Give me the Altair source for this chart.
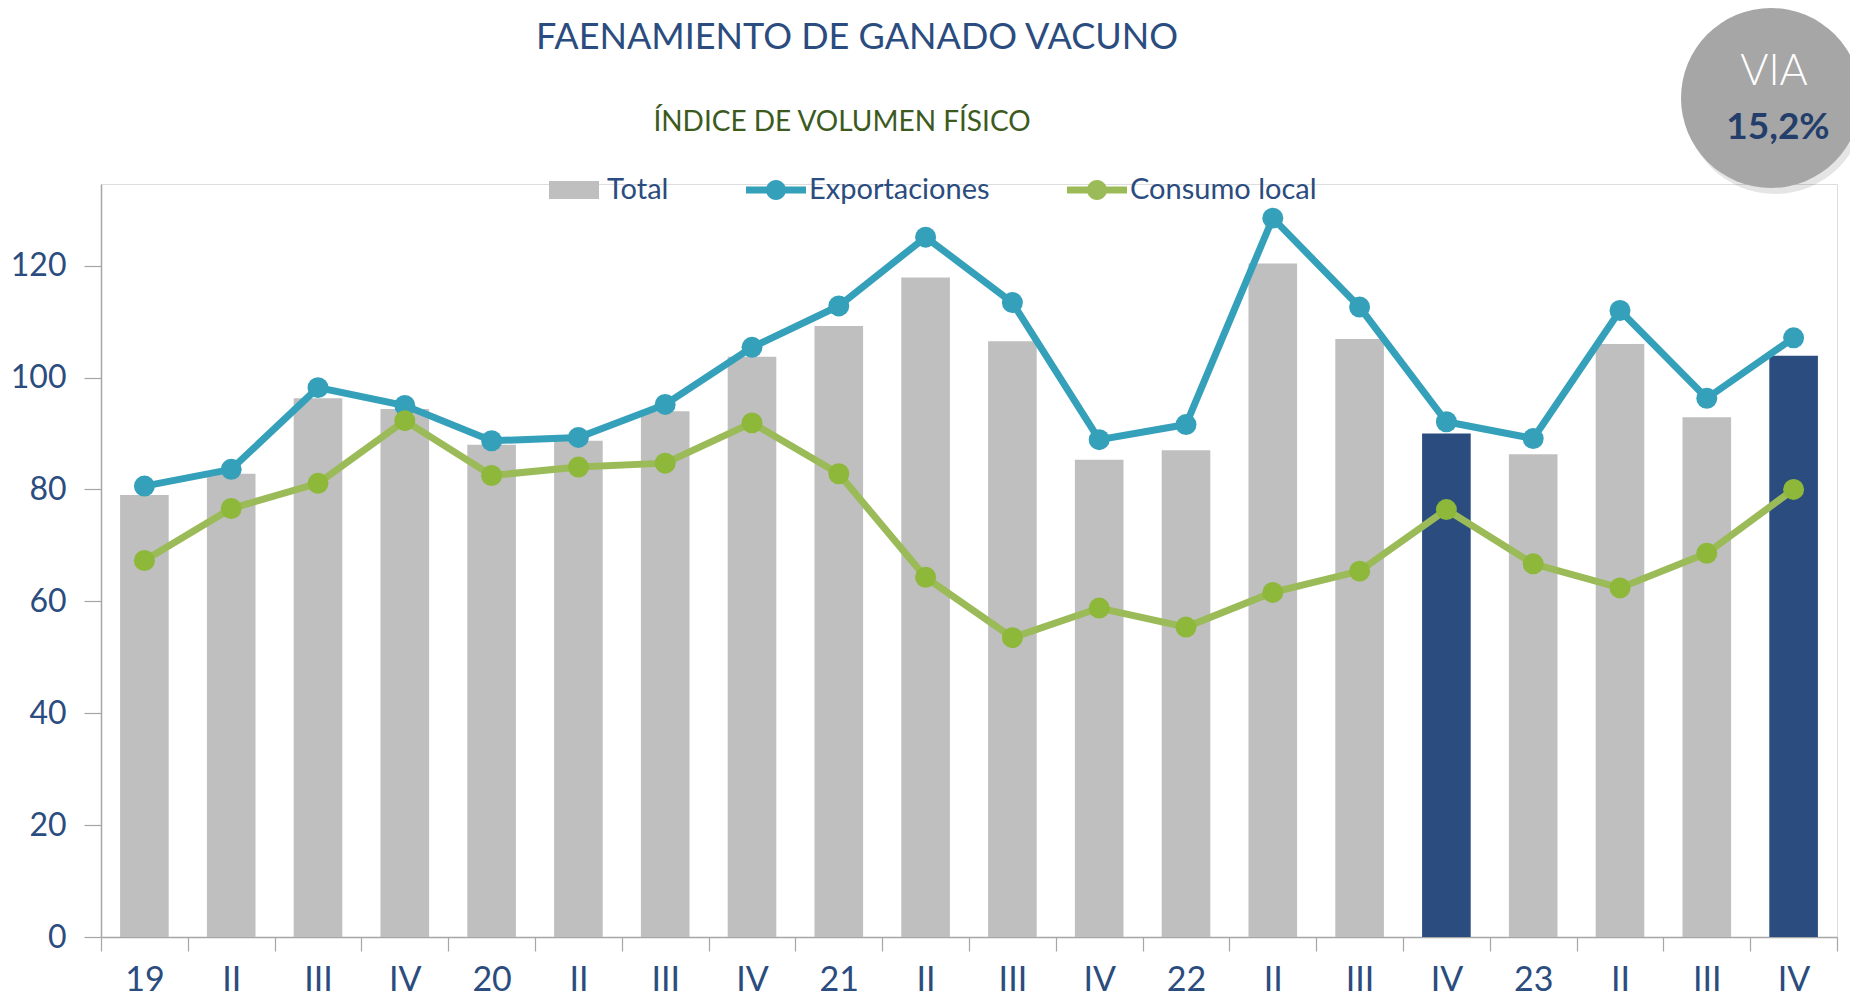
import json
import altair as alt
import pandas as pd

# ---- data ----
labels = ["19", "II", "III", "IV", "20", "II", "III", "IV", "21", "II",
          "III", "IV", "22", "II", "III", "IV", "23", "II", "III", "IV"]
total = [79.0, 82.8, 96.3, 94.4, 88.0, 88.7, 94.0, 103.7, 109.2, 117.9,
         106.5, 85.3, 87.0, 120.4, 106.9, 90.0, 86.3, 106.0, 92.9, 103.9]
exportaciones = [80.6, 83.6, 98.2, 95.0, 88.7, 89.3, 95.2, 105.4, 112.8, 125.1,
                 113.4, 88.9, 91.6, 128.5, 112.6, 92.1, 89.1, 112.0, 96.3, 107.1]
consumo = [67.3, 76.6, 81.1, 92.3, 82.5, 84.0, 84.7, 91.9, 82.8, 64.3,
           53.5, 58.8, 55.4, 61.6, 65.4, 76.4, 66.7, 62.4, 68.6, 80.0]
highlight = [i in (15, 19) for i in range(len(labels))]
series = ["Total", "Exportaciones", "Consumo local"]
y_ticks = [0, 20, 40, 60, 80, 100, 120]

TITLE = "FAENAMIENTO DE GANADO VACUNO"
SUBTITLE = "ÍNDICE DE VOLUMEN FÍSICO"
VIA_LABEL = "VIA"
VIA_VALUE = "15,2%"

# ---- styles ----
FONT = "Lato"
DARK = "#2B4C7E"
GRAY = "#BFBFBF"
BLUE = "#35A0BA"
GREEN_LINE = "#9BBB59"
GREEN_PT = "#8DB83A"
AXIS_GRAY = "#A6A6A6"

W, H = 1736, 753

df = pd.DataFrame({
    "idx": list(range(len(labels))),
    "label": labels,
    "total": total,
    "exp": exportaciones,
    "con": consumo,
    "hl": highlight,
})

label_expr = json.dumps(labels) + "[datum.value]"

x_enc = alt.X(
    "idx:O",
    scale=alt.Scale(paddingInner=0, paddingOuter=0),
    axis=alt.Axis(
        title=None, labelExpr=label_expr, labelAngle=0, tickBand="extent",
        tickSize=14, labelPadding=12, labelFont=FONT, labelFontSize=34,
        labelColor=DARK, domainColor=AXIS_GRAY, tickColor=AXIS_GRAY,
        domainWidth=1.5, tickWidth=1.2,
    ),
)
y_scale = alt.Scale(domain=[0, 134.6], nice=False, zero=True)
y_axis = alt.Axis(
    title=None, values=y_ticks, tickSize=17, labelPadding=18, labelFont=FONT,
    labelFontSize=32, labelColor=DARK, domainColor=AXIS_GRAY, tickColor=AXIS_GRAY,
    domainWidth=1.5, tickWidth=1.2, grid=False,
)


def Y(field):
    return alt.Y(f"{field}:Q", scale=y_scale, axis=y_axis)


base = alt.Chart(df)

bars = base.mark_bar(width=alt.RelativeBandSize(0.56)).encode(
    x=x_enc, y=Y("total"),
    color=alt.condition("datum.hl", alt.value(DARK), alt.value(GRAY)),
)
line_exp = base.mark_line(color=BLUE, strokeWidth=7).encode(x=x_enc, y=Y("exp"))
pts_exp = base.mark_circle(color=BLUE, size=440, opacity=1).encode(x=x_enc, y=Y("exp"))
line_con = base.mark_line(color=GREEN_LINE, strokeWidth=7).encode(x=x_enc, y=Y("con"))
pts_con = base.mark_circle(color=GREEN_PT, size=440, opacity=1).encode(x=x_enc, y=Y("con"))

# legend carried by a layer drawn outside the visible area
rect_path = "M-0.833,-0.3H0.833V0.3H-0.833Z"
line_dot_path = ("M-1,-0.117H1V0.117H-1Z"
                 "M0.333,0A0.333,0.333,0,1,1,-0.333,0A0.333,0.333,0,1,1,0.333,0Z")
legend = alt.Legend(
    title=None, orient="none", legendX=443, legendY=-24, direction="horizontal",
    labelFont=FONT, labelFontSize=29, labelColor=DARK, symbolSize=3600,
    labelOffset=3, columnPadding=77, padding=0, symbolStrokeWidth=0,
    labelLimit=0, symbolOpacity=1,
)
legend_layer = alt.Chart(pd.DataFrame({"serie": series})).mark_point(
    filled=True
).encode(
    x=alt.value(-3000), y=alt.value(-3000),
    color=alt.Color("serie:N", scale=alt.Scale(domain=series, range=[GRAY, BLUE, GREEN_LINE]),
                    legend=legend),
    shape=alt.Shape("serie:N", scale=alt.Scale(domain=series,
                                                range=[rect_path, line_dot_path, line_dot_path]),
                    legend=legend),
)

title_layer = alt.Chart(pd.DataFrame({"t": [TITLE]})).mark_text(
    font=FONT, fontSize=36, color=DARK, align="center", baseline="middle"
).encode(text="t:N", x=alt.value(756), y=alt.value(-146))
subtitle_layer = alt.Chart(pd.DataFrame({"t": [SUBTITLE]})).mark_text(
    font=FONT, fontSize=28, color="#3D5A1E", align="center", baseline="middle"
).encode(text="t:N", x=alt.value(741), y=alt.value(-61))

VX, VY = 1670, -86
via_shadow = alt.Chart(pd.DataFrame({"t": [VIA_LABEL]})).mark_circle(
    color="#000000", opacity=0.10, size=32400
).encode(x=alt.value(VX + 4), y=alt.value(VY + 6))
via_circle = alt.Chart(pd.DataFrame({"t": [VIA_LABEL]})).mark_circle(
    color="#A6A6A6", opacity=1, size=32400
).encode(x=alt.value(VX), y=alt.value(VY))
via_text = alt.Chart(pd.DataFrame({"t": [VIA_LABEL]})).mark_text(
    font=FONT, fontSize=43, fontWeight=300, color="#FFFFFF", align="center", baseline="middle"
).encode(text="t:N", x=alt.value(VX + 3), y=alt.value(VY - 26))
via_value = alt.Chart(pd.DataFrame({"t": [VIA_VALUE]})).mark_text(
    font=FONT, fontSize=37, fontWeight="bold", color="#233E6B", align="center",
    baseline="middle"
).encode(text="t:N", x=alt.value(VX + 7), y=alt.value(VY + 30))

chart = alt.layer(
    bars, line_exp, line_con, pts_exp, pts_con, legend_layer,
    title_layer, subtitle_layer, via_shadow, via_circle, via_text, via_value,
).properties(
    width=W, height=H,
    padding={"left": 93, "top": 176, "right": 13, "bottom": 59},
    autosize=alt.AutoSizeParams(type="none"),
).configure_view(stroke=None).configure(background="#FFFFFF")

chart.save("out.html", embed_options={"renderer": "svg", "actions": False})
